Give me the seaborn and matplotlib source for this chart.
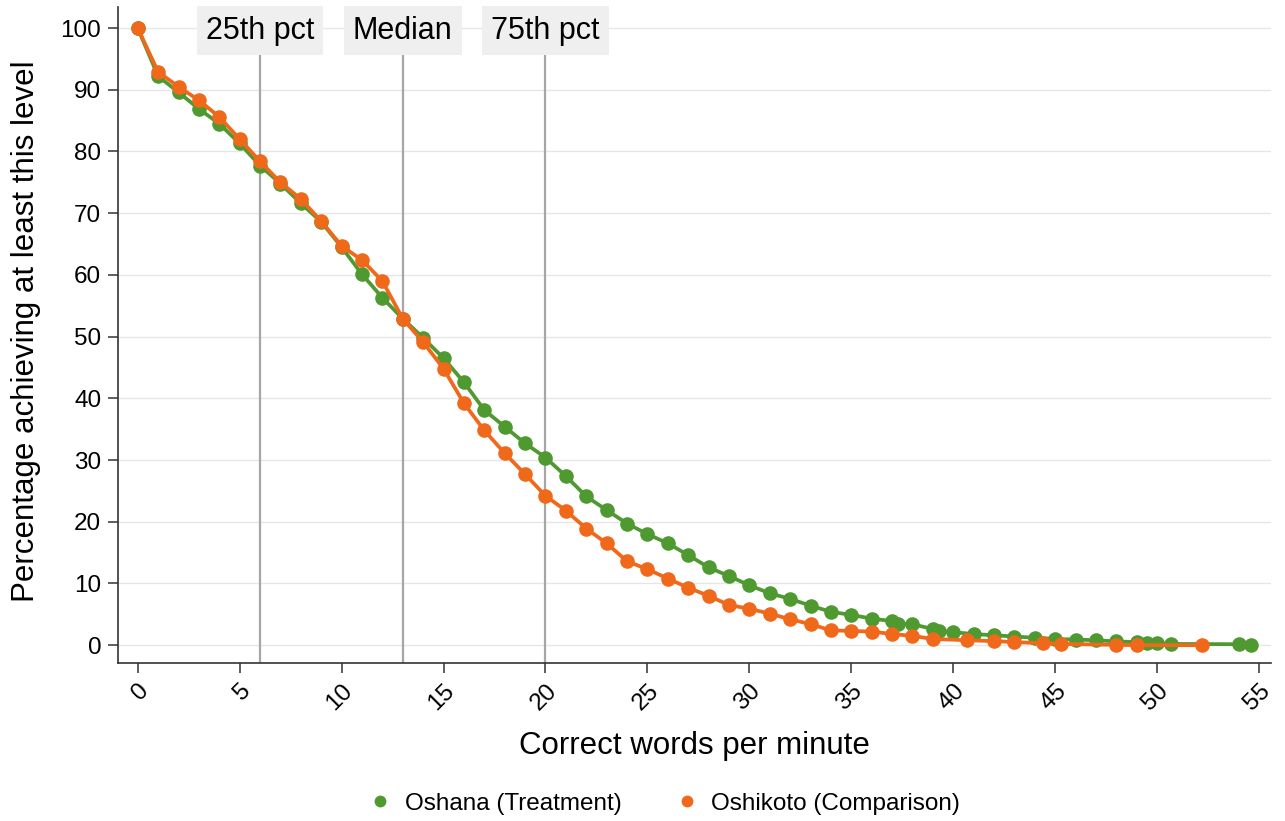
import matplotlib
matplotlib.use("Agg")
import matplotlib.pyplot as plt
from matplotlib.lines import Line2D
import seaborn as sns
import pandas as pd

# Cumulative share of learners reading at least N correct words per minute
oshana_x = [0, 1, 2, 3, 4, 5, 6, 7, 8, 9, 10, 11, 12, 13, 14, 15, 16, 17, 18, 19,
            20, 21, 22, 23, 24, 25, 26, 27, 28, 29, 30, 31, 32, 33, 34, 35, 36, 37,
            37.3, 38, 39, 39.3, 40, 41, 42, 43, 44, 45, 46, 47, 48, 49, 49.5, 50,
            50.7, 54, 54.6]
oshana_y = [100, 92.2, 89.6, 86.9, 84.5, 81.3, 77.7, 74.8, 71.6, 68.6, 64.5, 60.1,
            56.3, 52.9, 49.8, 46.5, 42.6, 38.1, 35.4, 32.7, 30.4, 27.4, 24.1, 21.9,
            19.7, 18.0, 16.5, 14.6, 12.6, 11.2, 9.7, 8.4, 7.5, 6.4, 5.4, 4.9, 4.3,
            3.9, 3.5, 3.4, 2.6, 2.3, 2.1, 1.8, 1.6, 1.4, 1.2, 1.0, 0.9, 0.8, 0.6,
            0.5, 0.4, 0.3, 0.2, 0.15, 0.1]

oshikoto_x = [0, 1, 2, 3, 4, 5, 6, 7, 8, 9, 10, 11, 12, 13, 14, 15, 16, 17, 18, 19,
              20, 21, 22, 23, 24, 25, 26, 27, 28, 29, 30, 31, 32, 33, 34, 35, 36, 37,
              38, 39, 40.7, 42, 43, 44.4, 45.3, 48, 49, 52.2]
oshikoto_y = [100, 92.9, 90.5, 88.3, 85.6, 82.0, 78.4, 75.0, 72.3, 68.7, 64.7, 62.4,
              59.0, 52.9, 49.1, 44.8, 39.2, 34.8, 31.1, 27.7, 24.2, 21.8, 18.9, 16.5,
              13.6, 12.3, 10.8, 9.3, 8.0, 6.5, 5.9, 5.1, 4.2, 3.4, 2.4, 2.3, 2.2,
              1.8, 1.5, 1.0, 0.8, 0.65, 0.5, 0.3, 0.2, 0.05, 0.0, 0.0]

groups = ["Oshana (Treatment)", "Oshikoto (Comparison)"]
colors = ["#4E9A31", "#F0681A"]

pct_positions = [6, 13, 20]
pct_labels = ["25th pct", "Median", "75th pct"]

x_ticks = list(range(0, 56, 5))
y_ticks = list(range(0, 101, 10))

df = pd.concat([
    pd.DataFrame({"wpm": oshana_x, "pct": oshana_y, "group": groups[0]}),
    pd.DataFrame({"wpm": oshikoto_x, "pct": oshikoto_y, "group": groups[1]}),
], ignore_index=True)

sns.set_style("white")
plt.rcParams["font.family"] = ["Liberation Sans", "DejaVu Sans"]
plt.rcParams["text.color"] = "black"
plt.rcParams["axes.labelcolor"] = "black"
plt.rcParams["xtick.color"] = "black"
plt.rcParams["ytick.color"] = "black"

fig = plt.figure(figsize=(12.85, 8.21), dpi=100)
ax = fig.add_axes([0.0918, 0.1924, 0.8975, 0.8076])

sns.lineplot(data=df, x="wpm", y="pct", hue="group", hue_order=groups,
             palette=colors, marker="o", markersize=10.5, markeredgewidth=0,
             linewidth=2.7, estimator=None, sort=True, legend=False, ax=ax,
             zorder=3)

ax.set_xlim(-0.97, 55.6)
ax.set_ylim(-2.9, 104.55)

# Horizontal grid
ax.set_yticks(y_ticks)
ax.set_xticks(x_ticks)
ax.grid(axis="y", color="#e6e6e6", linewidth=1.0, zorder=0)
ax.grid(axis="x", visible=False)

# Percentile markers with boxed captions
for xp, lab in zip(pct_positions, pct_labels):
    ax.vlines(xp, -2.9, 96.0, color="#a6a6a6", linewidth=1.6, zorder=2)
    ax.text(xp, 99.6, lab, ha="center", va="center", fontsize=22,
            color="black", zorder=4, clip_on=False,
            bbox=dict(boxstyle="square,pad=0.3", facecolor="#efefef",
                      edgecolor="none"))

for side in ["top", "right"]:
    ax.spines[side].set_visible(False)
for side in ["left", "bottom"]:
    ax.spines[side].set_color("#333333")
    ax.spines[side].set_linewidth(1.2)
ax.spines["left"].set_bounds(-2.9, 103.4)

ax.tick_params(axis="both", which="major", length=7, width=1.1,
               color="#333333", labelcolor="black", labelsize=17.5,
               direction="out", left=True, bottom=True, pad=5)
for lbl in ax.get_xticklabels():
    lbl.set_rotation(45)
    lbl.set_ha("right")
    lbl.set_rotation_mode("anchor")

ax.set_xlabel("Correct words per minute", fontsize=22.5, labelpad=12)
ax.set_ylabel("Percentage achieving at least this level", fontsize=22.5,
              labelpad=14)

handles = [Line2D([], [], linestyle="none", marker="o", markersize=8.5,
                  markerfacecolor=c, markeredgewidth=0) for c in colors]
fig.legend(handles, groups, loc="center", bbox_to_anchor=(0.517, 0.021),
           ncol=2, frameon=False, fontsize=17.5, handletextpad=0.5,
           columnspacing=2.2, handlelength=1.0)

fig.savefig("out.png", dpi=100)
